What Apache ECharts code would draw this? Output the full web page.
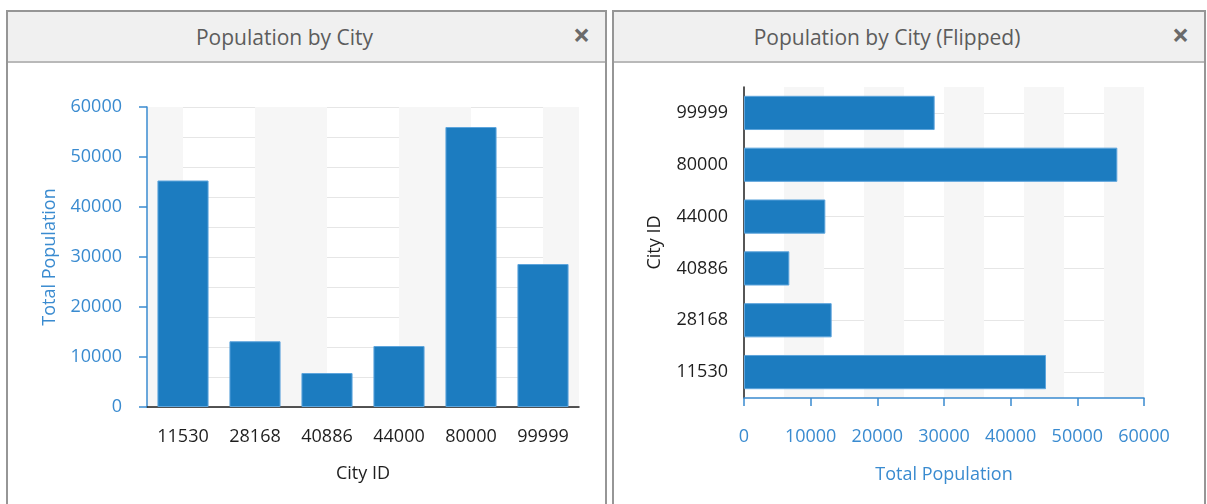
<!DOCTYPE html>
<html>
<head>
<meta charset="utf-8">
<script src="https://cdn.jsdelivr.net/npm/echarts@6/dist/echarts.min.js"></script>
<style>
  html, body { margin: 0; padding: 0; background: #ffffff; }
  body { width: 1207px; height: 504px; position: relative; overflow: hidden; font-family: "Open Sans", "Noto Sans", sans-serif; }
  .panel { position: absolute; top: 10px; height: 520px; border: 2px solid #969696; background: #ffffff; box-sizing: border-box; }
  .panel .head { position: absolute; left: 0; right: 0; top: 0; height: 51px; background: #f0f0f0; border-bottom: 2px solid #b9b9b9; box-sizing: border-box; }
  .panel .title { position: absolute; left: 0; right: 44px; top: 10px; text-align: center; font-size: 21px; color: #5c5c5c; line-height: 30px; }
  .panel .close { position: absolute; top: 6px; font-size: 30px; font-weight: bold; color: #6a6a6a; line-height: 34px; }
  #chart { position: absolute; left: 0; top: 0; width: 1207px; height: 504px; }
</style>
</head>
<body>
<div class="panel" style="left:6px; width:601px;">
  <div class="head"><div class="title">Population by City</div><div class="close" style="left:565px;">×</div></div>
</div>
<div class="panel" style="left:612px; width:594px;">
  <div class="head"><div class="title">Population by City (Flipped)</div><div class="close" style="left:558px;">×</div></div>
</div>
<div id="chart"></div>
<script>
// City identifiers and their total population
const cityIds = ['11530', '28168', '40886', '44000', '80000', '99999'];
const populations = [45300, 13150, 6800, 12200, 56000, 28600];
const valueAxisMin = 0;
const valueAxisMax = 60000;
const labelStep = 10000;
const gridStep = 6000;

const FONT = '"Open Sans", "Noto Sans", sans-serif';
const BLUE = '#3a8bd0';
const DARK = '#1e1e1e';
const BAR = '#1c7cc0';
const BAR_EDGE = '#5ea5dc';
const STRIPE = '#f6f6f6';
const GRIDLINE = '#e6e6e6';
const NONE = 'rgba(0,0,0,0)';

// Half-category helper axis: 2 units per category
const halfUnits = cityIds.length * 2;

// Plain integers, no thousands separators
const plain = v => String(v);

function hiddenValueAxis(extra) {
  return Object.assign({
    type: 'value',
    axisLine: { show: false },
    axisTick: { show: false },
    axisLabel: { show: false },
    splitLine: { show: false },
    splitArea: { show: false },
    silent: true
  }, extra);
}

const chart = echarts.init(document.getElementById('chart'), null, { renderer: 'canvas' });

chart.setOption({
  animation: false,
  backgroundColor: 'transparent',
  textStyle: { fontFamily: FONT },
  grid: [
    { left: 147, top: 107, width: 432, height: 300, containLabel: false, outerBoundsMode: 'none' },
    { left: 744, top: 87, width: 400, height: 311, containLabel: false, outerBoundsMode: 'none' }
  ],
  xAxis: [
    {
      type: 'category', gridIndex: 0, data: cityIds,
      axisLine: { lineStyle: { color: DARK, width: 1.5 } },
      axisTick: { alignWithLabel: true, length: 7, lineStyle: { color: DARK, width: 1.5 } },
      axisLabel: { color: DARK, fontSize: 18, margin: 21, fontFamily: FONT },
      splitLine: { show: false },
      name: 'City ID', nameLocation: 'middle', nameGap: 58,
      nameTextStyle: { color: DARK, fontSize: 18, fontFamily: FONT }
    },
    // Stripes between category centres, cycling shaded / clear / clear / shaded per half category
    hiddenValueAxis({
      gridIndex: 0, min: 0, max: halfUnits, interval: 1,
      splitArea: { show: true, areaStyle: { color: [STRIPE, NONE, NONE, STRIPE] } }
    }),
    {
      type: 'value', gridIndex: 1, min: valueAxisMin, max: valueAxisMax, interval: labelStep,
      offset: 9,
      axisLine: { show: true, lineStyle: { color: BLUE, width: 1.5 } },
      axisTick: { show: true, length: 8, lineStyle: { color: BLUE, width: 1.5 } },
      axisLabel: { color: BLUE, fontSize: 18, margin: 21, fontFamily: FONT, formatter: plain },
      splitLine: { show: false },
      name: 'Total Population', nameLocation: 'middle', nameGap: 59,
      nameTextStyle: { color: BLUE, fontSize: 18, fontFamily: FONT }
    },
    hiddenValueAxis({
      gridIndex: 1, min: valueAxisMin, max: valueAxisMax, interval: gridStep,
      splitArea: { show: true, areaStyle: { color: [NONE, STRIPE] } }
    })
  ],
  yAxis: [
    {
      type: 'value', gridIndex: 0, min: valueAxisMin, max: valueAxisMax, interval: labelStep,
      offset: 9,
      axisLine: { show: true, lineStyle: { color: BLUE, width: 1.5 } },
      axisTick: { show: true, length: 8, lineStyle: { color: BLUE, width: 1.5 } },
      axisLabel: { color: BLUE, fontSize: 18, margin: 16, fontFamily: FONT, formatter: plain },
      splitLine: { show: false },
      name: 'Total Population', nameLocation: 'middle', nameGap: 79, nameRotate: 90,
      nameTextStyle: { color: BLUE, fontSize: 18, fontFamily: FONT }
    },
    hiddenValueAxis({
      gridIndex: 0, min: valueAxisMin, max: valueAxisMax, interval: gridStep,
      splitLine: { show: true, lineStyle: { color: GRIDLINE, width: 1 } }
    }),
    {
      type: 'category', gridIndex: 1, data: cityIds,
      axisLine: { lineStyle: { color: DARK, width: 1.5 } },
      axisTick: { alignWithLabel: true, length: 8, lineStyle: { color: DARK, width: 1.5 } },
      axisLabel: { color: DARK, fontSize: 18, margin: 16, fontFamily: FONT },
      splitLine: { show: false },
      name: 'City ID', nameLocation: 'middle', nameGap: 80, nameRotate: 90,
      nameTextStyle: { color: DARK, fontSize: 18, fontFamily: FONT }
    },
    // Row lines through category centres (odd half-units only)
    hiddenValueAxis({
      gridIndex: 1, min: 0, max: halfUnits, interval: 1,
      splitLine: { show: true, lineStyle: { color: [NONE, GRIDLINE], width: 1 } }
    })
  ],
  series: [
    {
      type: 'bar', xAxisIndex: 0, yAxisIndex: 0, data: populations,
      barCategoryGap: '29%',
      itemStyle: { color: BAR, borderColor: BAR_EDGE, borderWidth: 1 },
      emphasis: { disabled: true }
    },
    {
      type: 'bar', xAxisIndex: 2, yAxisIndex: 2, data: populations,
      barCategoryGap: '34%',
      itemStyle: { color: BAR, borderColor: BAR_EDGE, borderWidth: 1 },
      emphasis: { disabled: true }
    }
  ]
});
</script>
</body>
</html>
